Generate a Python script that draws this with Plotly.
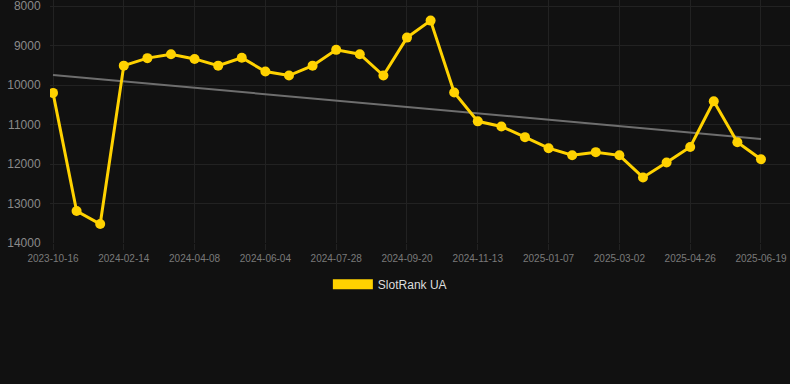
import numpy as np
import plotly.graph_objects as go

dates = [
    "2023-10-16", "2023-12-01", "2024-01-15", "2024-02-14", "2024-03-03",
    "2024-03-21", "2024-04-08", "2024-04-27", "2024-05-16", "2024-06-04",
    "2024-06-22", "2024-07-10", "2024-07-28", "2024-08-15", "2024-09-02",
    "2024-09-20", "2024-10-08", "2024-10-26", "2024-11-13", "2024-12-01",
    "2024-12-19", "2025-01-07", "2025-01-25", "2025-02-12", "2025-03-02",
    "2025-03-20", "2025-04-07", "2025-04-26", "2025-05-14", "2025-06-01",
    "2025-06-19",
]
rank_ua = [
    10200, 13190, 13520, 9510, 9320, 9220, 9340, 9510, 9310, 9660,
    9760, 9510, 9110, 9220, 9760, 8800, 8370, 10190, 10920, 11050,
    11320, 11600, 11780, 11700, 11780, 12340, 11960, 11570, 10410, 11450,
    11880,
]
y_ticks = [8000, 9000, 10000, 11000, 12000, 13000, 14000]
y_tick_text = [str(v) for v in y_ticks]
x_ticks = dates[::3]

idx = np.arange(len(rank_ua))
slope, intercept = np.polyfit(idx, rank_ua, 1)
trend = list(slope * idx + intercept)

GOLD = "#FFD200"
FONT = "Liberation Sans, Arial, sans-serif"

fig = go.Figure()
fig.add_trace(go.Scatter(
    x=dates, y=trend, mode="lines",
    line=dict(color="#6e6e6e", width=2),
    showlegend=False, hoverinfo="skip",
))
fig.add_trace(go.Scatter(
    x=dates, y=rank_ua, mode="lines+markers",
    line=dict(color=GOLD, width=3),
    marker=dict(color=GOLD, size=10),
    showlegend=False, name="SlotRank UA",
))
fig.add_trace(go.Scatter(
    x=[None], y=[None], mode="lines",
    line=dict(color=GOLD, width=12),
    name="SlotRank UA", showlegend=True,
))

fig.update_layout(
    width=790, height=384,
    paper_bgcolor="#111111", plot_bgcolor="#111111",
    margin=dict(l=50, r=0, t=0, b=141),
    font=dict(family=FONT, color="#dddddd"),
    legend=dict(
        orientation="h", xref="container", yref="container",
        x=0.4935, xanchor="center", y=0.26, yanchor="middle",
        font=dict(size=12, color="#dddddd"),
        itemwidth=40, bgcolor="rgba(0,0,0,0)",
    ),
    xaxis=dict(
        type="category",
        range=[-0.127, 31.23],
        tickmode="array", tickvals=x_ticks, ticktext=x_ticks,
        tickangle=0,
        tickfont=dict(size=10, color="#7a7a7a"),
        showgrid=True, gridcolor="#222222", gridwidth=1,
        ticks="outside", ticklen=6, tickcolor="#222222",
        showline=False, zeroline=False,
    ),
    yaxis=dict(
        range=[14000, 7848],
        tickmode="array", tickvals=y_ticks, ticktext=y_tick_text,
        tickfont=dict(size=12, color="#8a8a8a"),
        showgrid=True, gridcolor="#222222", gridwidth=1,
        ticks="outside", ticklen=6, tickcolor="rgba(0,0,0,0)",
        ticklabeloverflow="allow",
        showline=False, zeroline=False,
    ),
)

fig.write_html(
    "out.html",
    config={"displayModeBar": False},
    post_script="document.body.style.margin='0';document.body.style.padding='0';"
                "document.body.style.background='#111111';",
)
